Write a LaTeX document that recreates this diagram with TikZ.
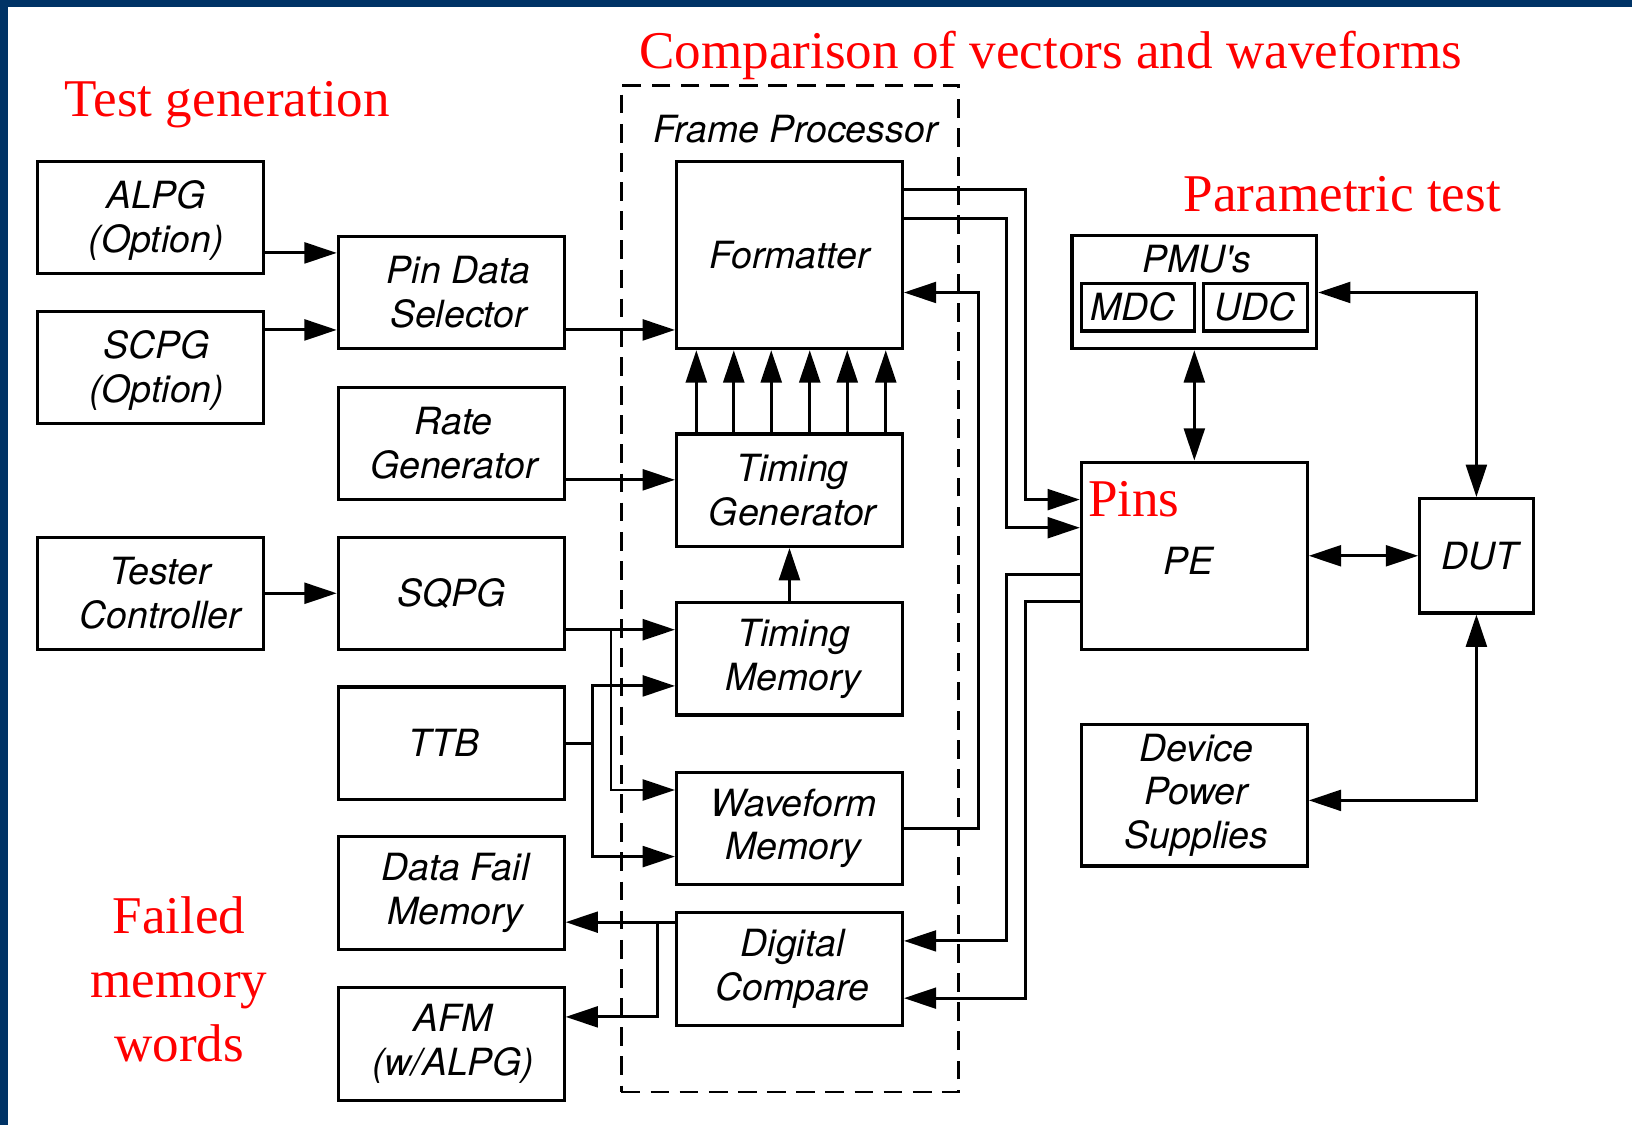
\documentclass[tikz,border=0pt]{standalone}
\usepackage{fontspec}
\setmainfont{Liberation Serif}
\newfontfamily\hvfont{TeX Gyre Heros}
\usetikzlibrary{arrows.meta}
\definecolor{navy}{RGB}{0,51,102}
\definecolor{tred}{RGB}{255,0,0}

\begin{document}
\begin{tikzpicture}[x=0.5pt,y=-0.5pt,
  blk/.style={draw, line width=1.5pt, rectangle, inner sep=0pt,
    minimum width=108.5pt, minimum height=54pt},
  lbl/.style={inner sep=0pt, align=center,
    font=\hvfont\itshape\fontsize{18pt}{21pt}\selectfont},
  note/.style={inner sep=0pt, text=tred, font=\fontsize{25.5pt}{30pt}\selectfont},
  wire/.style={line width=1.4pt},
  tip/.tip={Triangle[length=15.5pt,width=10pt]},
  arr/.style={wire, -tip},
  darr/.style={wire, tip-tip},
]
% page and frame band
\fill[white] (0,0) rectangle (1568,1081);
\fill[navy] (0,0) rectangle (1568,6.5);
\fill[navy] (0,0) rectangle (7.5,1081);
\useasboundingbox (0,0) rectangle (1568,1081);

% frame processor outline
\node[draw, line width=1.2pt, dash pattern=on 9pt off 5pt, inner sep=0pt,
  minimum width=162pt, minimum height=483.5pt] (frame) at (759,565.5) {};
\node[lbl, anchor=base west] (fplbl) at (627,137) {Frame Processor};

% test generation column
\node[blk] (alpg) at (144.5,209) {};
\node[lbl, xshift=2.75pt, yshift=-1.5pt] (alpgT) at (alpg) {ALPG\\(Option)};
\node[blk] (scpg) at (144.5,353) {};
\node[lbl, xshift=3pt, yshift=-1.5pt] (scpgT) at (scpg) {SCPG\\(Option)};
\node[blk] (tc) at (144.5,570) {};
\node[lbl, xshift=4.75pt] (tcT) at (tc) {Tester\\Controller};

\node[blk] (pds) at (433.5,281) {};
\node[lbl, xshift=3.5pt] (pdsT) at (pds) {Pin Data\\Selector};
\node[blk] (rate) at (433.5,426) {};
\node[lbl, xshift=1.25pt] (rateT) at (rate) {Rate\\Generator};
\node[blk] (sqpg) at (433.5,570) {};
\node[lbl] (sqpgT) at (sqpg) {SQPG};
\node[blk] (ttb) at (433.5,714) {};
\node[lbl, xshift=-3.5pt] (ttbT) at (ttb) {TTB};
\node[blk] (dfm) at (433.5,858) {};
\node[lbl, xshift=2pt] (dfmT) at (dfm) {Data Fail\\Memory};
\node[blk] (afm) at (433.5,1003) {};
\node[lbl, xshift=1pt] (afmT) at (afm) {AFM\\(w/ALPG)};

% frame processor blocks
\node[blk, minimum height=90pt] (fmt) at (758.5,245) {};
\node[lbl] (fmtT) at (fmt) {Formatter};
\node[blk] (tg) at (758.5,471) {};
\node[lbl, xshift=1.5pt] (tgT) at (tg) {Timing\\Generator};
\node[blk] (tm) at (758.5,633) {};
\node[lbl, xshift=2pt] (tmT) at (tm) {Timing\\Memory};
\node[blk] (wm) at (758.5,796) {};
\node[lbl, xshift=2pt] (wmT) at (wm) {Waveform\\Memory};
\node[blk] (dc) at (758.5,931) {};
\node[lbl, xshift=1.5pt] (dcT) at (dc) {Digital\\Compare};

% pin electronics side
\node[blk, minimum width=117.5pt, minimum height=54.5pt] (pmu) at (1147.5,280.5) {};
\node[lbl, anchor=base] (pmuT) at (1150,262) {PMU's};
\node[blk, minimum width=54.5pt, minimum height=23pt] (mdc) at (1093.5,295) {};
\node[lbl, xshift=-2.5pt] (mdcT) at (mdc) {MDC};
\node[blk, minimum width=50pt, minimum height=23pt] (udc) at (1206,295) {};
\node[lbl] (udcT) at (udc) {UDC};
\node[blk, minimum height=90pt] (pe) at (1147.5,534) {};
\node[lbl, xshift=-2.75pt, yshift=-2.5pt] (peT) at (pe) {PE};
\node[blk, minimum width=54.5pt, minimum height=55pt] (dut) at (1418.5,534) {};
\node[lbl, xshift=1.5pt] (dutT) at (dut) {DUT};
\node[blk, minimum height=68pt] (dps) at (1147.5,764) {};
\node[lbl, xshift=1pt] (dpsT) at (dps) {Device\\Power\\Supplies};

% pattern sources
\draw[arr] (alpg.east |- 0,243) -- (pds.west |- 0,243);
\draw[arr] (scpg.east |- 0,317) -- (pds.west |- 0,317);
\draw[arr] (pds.east |- 0,317) -- (fmt.west |- 0,317);
\draw[arr] (rate.east |- 0,461) -- (tg.west |- 0,461);
\draw[arr] (tc.east |- 0,570) -- (sqpg.west |- 0,570);

% SQPG feeds both memories
\coordinate (sqj) at (587,605);
\draw[arr] (sqpg.east |- sqj) -- (tm.west |- sqj);
\draw[arr] (sqj) |- (wm.west |- 0,759);

% TTB feeds both memories
\coordinate (ttbj) at (569,714);
\draw[wire] (ttb.east |- ttbj) -- (ttbj);
\draw[arr] (ttbj) |- (tm.west |- 0,659);
\draw[arr] (ttbj) |- (wm.west |- 0,823);

% timing path
\draw[arr] (tm.north) -- (tg.south);
\foreach \xx in {669,705,741,778,814,851}
  \draw[arr] (tg.north -| \xx,0) -- (fmt.south -| \xx,0);

% formatter to pin electronics
\draw[arr] (fmt.east |- 0,182) -| (985,330) |- (pe.west |- 0,480);
\draw[arr] (fmt.east |- 0,210) -| (967,330) |- (pe.west |- 0,507);

% waveform memory back to formatter
\draw[arr] (wm.east |- 0,796) -| (940,500) |- (fmt.east |- 0,281);

% pin electronics to digital compare
\draw[arr] (pe.west |- 0,552) -| (967,700) |- (dc.east |- 0,904);
\draw[arr] (pe.west |- 0,578) -| (985,700) |- (dc.east |- 0,959);

% fail capture
\coordinate (dcj) at (632,886);
\draw[arr] (dc.west |- dcj) -- (dfm.east |- dcj);
\draw[arr] (dcj) |- (afm.east |- 0,977);

% parametric and device connections
\draw[darr] (pmu.south) -- (pe.north);
\draw[darr] (dut.north) |- (pmu.east |- 0,281);
\draw[darr] (pe.east) -- (dut.west);
\draw[darr] (dut.south) |- (dps.east |- 0,769);

% annotations
\node[note, anchor=base west] (tgen) at (62,112) {Test generation};
\node[note, anchor=base west] (cmp) at (614,66) {Comparison of vectors and waveforms};
\node[note, anchor=base west] (ptest) at (1137,203) {Parametric test};
\node[note, anchor=base west] (pins) at (1045,496) {Pins};
\node[note, anchor=base] (fm1) at (172,897) {Failed};
\node[note, anchor=base] (fm2) at (172,958) {memory};
\node[note, anchor=base] (fm3) at (172,1020) {words};
\end{tikzpicture}
\end{document}
